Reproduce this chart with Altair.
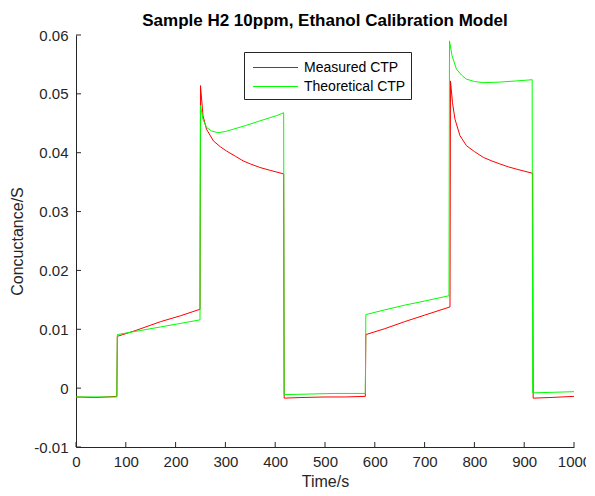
import altair as alt
import pandas as pd

# ---- data ----
meas_t = [0, 40, 82, 83, 120, 170, 210, 249, 250, 255, 262, 276, 290, 302, 320, 336, 350, 369, 390, 417,
          418, 450, 500, 540, 581, 582, 620, 660, 700, 751, 752, 756, 761, 771, 784, 800, 818, 835, 851,
          868, 885, 917, 918, 950, 1000]
meas_g = [-0.0015, -0.0016, -0.0014, 0.0088, 0.0098, 0.0113, 0.0123, 0.0134, 0.0514, 0.0463, 0.0440,
          0.0420, 0.0410, 0.0403, 0.0394, 0.0386, 0.0381, 0.0375, 0.0370, 0.0364,
          -0.0017, -0.0016, -0.0015, -0.0015, -0.0014, 0.0091, 0.0101, 0.0113, 0.0124, 0.0138,
          0.0522, 0.0485, 0.0457, 0.0429, 0.0412, 0.0402, 0.0392, 0.0386, 0.0381, 0.0376, 0.0372, 0.0365,
          -0.0017, -0.0016, -0.0014]

theo_t = [0, 82, 83, 130, 170, 210, 249, 250, 255, 262, 272, 285, 300, 316, 340, 369, 403, 417,
          418, 470, 520, 581, 582, 620, 660, 700, 749, 750, 755, 764, 774, 784, 800, 818, 851, 885, 916,
          917, 960, 1000]
theo_g = [-0.0015, -0.0015, 0.0091, 0.0098, 0.0104, 0.0110, 0.0116, 0.0480, 0.0457, 0.0443, 0.0437,
          0.0434, 0.0436, 0.0440, 0.0446, 0.0454, 0.0463, 0.0468,
          -0.0011, -0.0010, -0.0009, -0.0009, 0.0125, 0.0133, 0.0141, 0.0148, 0.0157,
          0.0590, 0.0565, 0.0542, 0.0532, 0.0525, 0.0521, 0.0519, 0.0520, 0.0522, 0.0524,
          -0.0008, -0.0007, -0.0006]

series_names = ["Measured CTP", "Theoretical CTP"]
series_colors = ["#ff0000", "#00ff00"]
x_ticks = [0, 100, 200, 300, 400, 500, 600, 700, 800, 900, 1000]
y_ticks = [-0.01, 0, 0.01, 0.02, 0.03, 0.04, 0.05, 0.06]

rows = []
for i, (t, g) in enumerate(zip(meas_t, meas_g)):
    rows.append({"t": t, "g": g, "s": series_names[0], "i": i})
for i, (t, g) in enumerate(zip(theo_t, theo_g)):
    rows.append({"t": t, "g": g, "s": series_names[1], "i": i})
df = pd.DataFrame(rows)

FONT = "Liberation Sans"
W, H = 498, 412
xs = alt.Scale(domain=[0, 1000], nice=False, zero=False)
ys = alt.Scale(domain=[-0.01, 0.06], nice=False, zero=False)

ylab = ("abs(datum.value) < 1e-9 ? '0' : (datum.value < 0 ? '-' + format(-datum.value, '.2f') "
        ": format(datum.value, '.2f'))")

lines = alt.Chart(df).mark_line(strokeWidth=1, clip=True).encode(
    x=alt.X("t:Q", scale=xs, axis=alt.Axis(values=x_ticks, title="Time/s", labelPadding=7,
                                           titlePadding=4, format="d", labelFlush=False)),
    y=alt.Y("g:Q", scale=ys, axis=alt.Axis(values=y_ticks, title="Concuctance/S", labelExpr=ylab,
                                           labelPadding=8, titlePadding=8, labelFlush=False)),
    color=alt.Color("s:N", scale=alt.Scale(domain=series_names, range=series_colors),
                    legend=alt.Legend(title=None, orient="none", legendX=168, legendY=17,
                                      symbolType="M-2.25,0H2.25", symbolSize=400,
                                      symbolStrokeWidth=1, symbolOffset=16, labelOffset=18,
                                      labelFontSize=14, labelFont=FONT, labelColor="#000000",
                                      padding=5, rowPadding=1,
                                      strokeColor="#262626", fillColor="white")),
    detail="s:N",
    order=alt.Order("i:Q"),
)

xt = alt.Chart(pd.DataFrame({"v": x_ticks})).mark_rule(color="#262626", strokeWidth=1).encode(
    x=alt.X("v:Q", scale=xs), y=alt.value(H), y2=alt.value(H - 5))
yt = alt.Chart(pd.DataFrame({"v": y_ticks})).mark_rule(color="#262626", strokeWidth=1).encode(
    y=alt.Y("v:Q", scale=ys), x=alt.value(0), x2=alt.value(5))

chart = alt.layer(lines, xt, yt).properties(
    width=W, height=H,
    background="white",
    title=alt.TitleParams("Sample H2 10ppm, Ethanol Calibration Model", fontSize=17, font=FONT,
                          fontWeight="bold", color="#000000", anchor="middle", offset=-2),
    autosize=alt.AutoSizeParams(type="none"),
    padding={"left": 68, "top": 27, "right": 12, "bottom": 45},
).configure_view(stroke=None).configure_axis(
    grid=False, ticks=False, domainColor="#262626", domainWidth=1,
    labelFont=FONT, labelFontSize=15, labelColor="#262626",
    titleFont=FONT, titleFontSize=16, titleColor="#262626", titleFontWeight="normal",
)

chart.save("out.html", embed_options={"renderer": "svg", "actions": False})
